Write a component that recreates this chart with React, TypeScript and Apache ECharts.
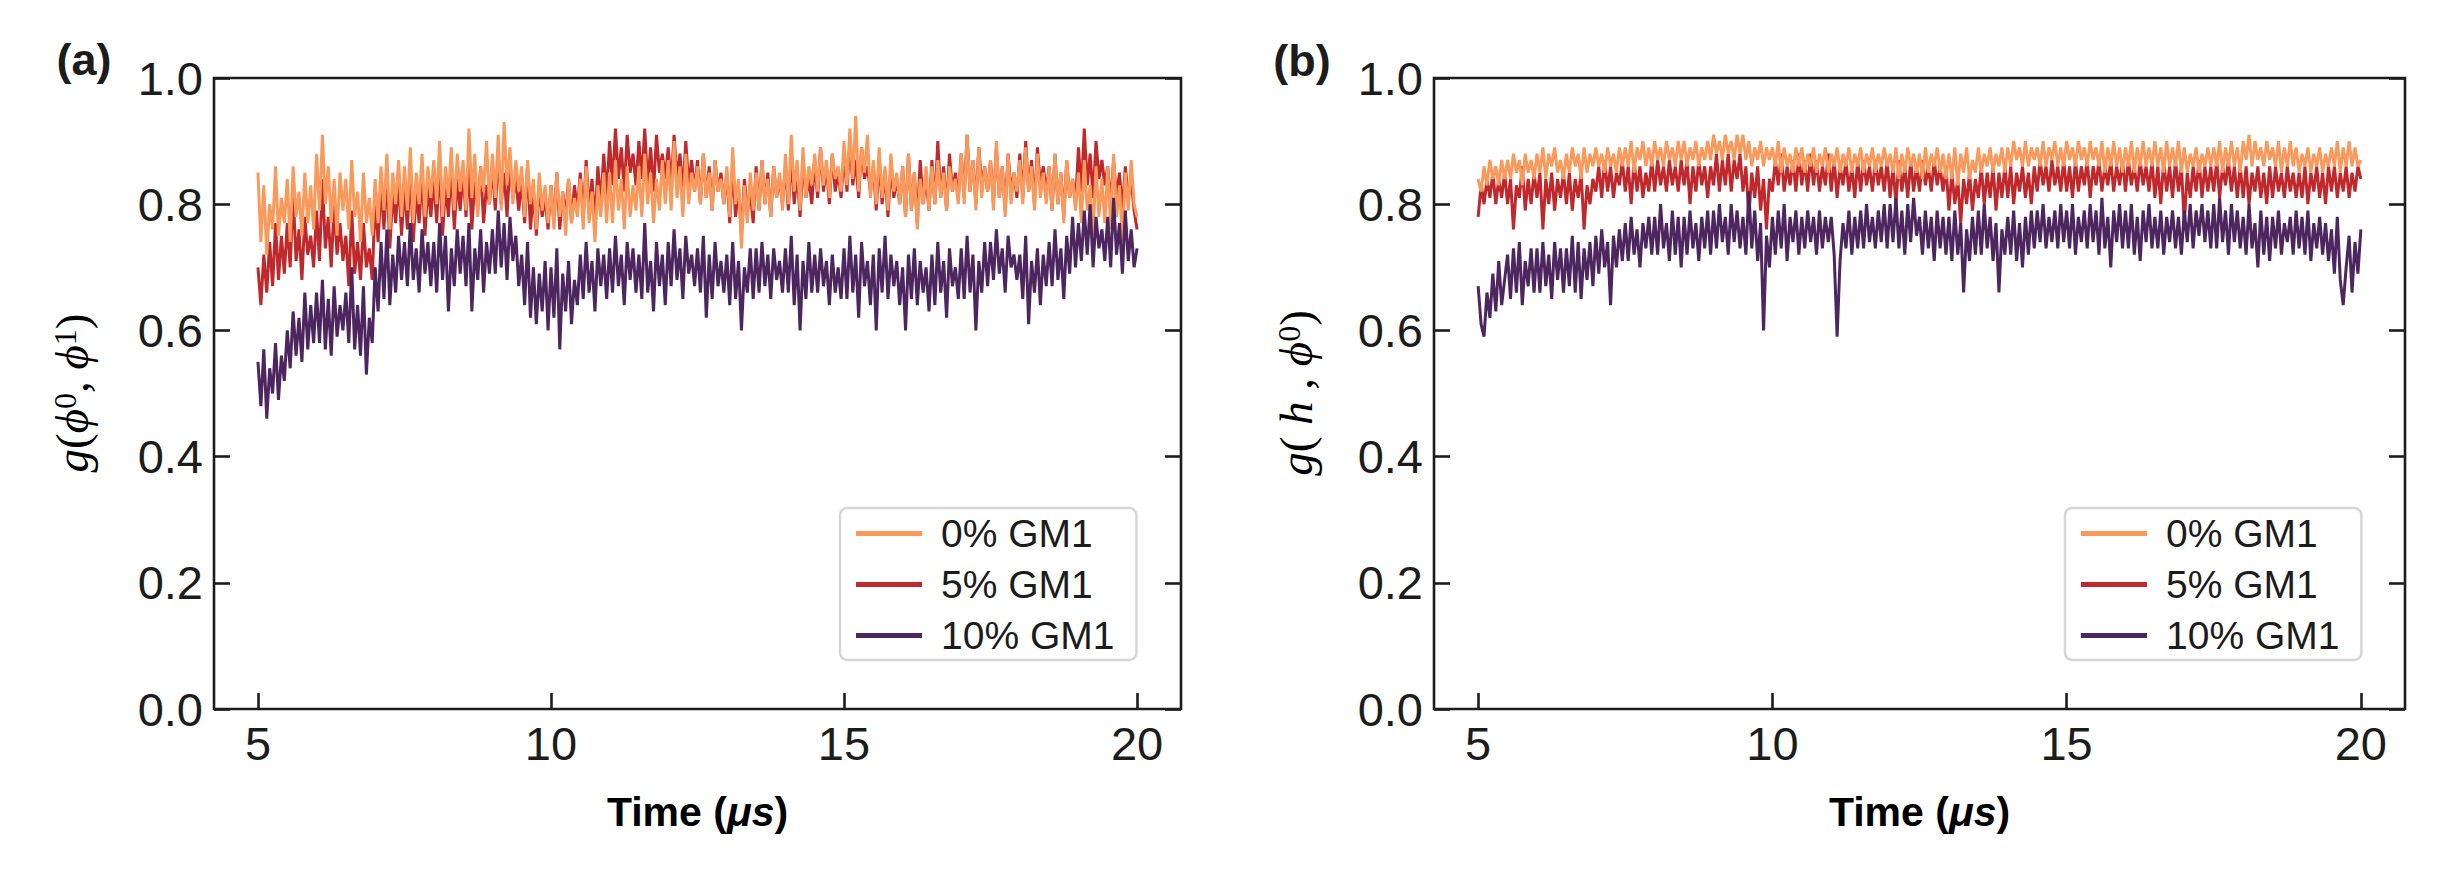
import { useEffect, useRef } from "react";
import * as echarts from "echarts";

// sampling of all traces: 5.0 .. 20.0 us, every 0.05 us (10 values per row = 0.5 us)
const TIME_START = 5;
const TIME_STEP = 0.05;

const SERIES_NAMES = ["0% GM1", "5% GM1", "10% GM1"];
const SERIES_COLORS = ["#F99A5C", "#C1282B", "#4D2660"];
const X_TICKS = [5, 10, 15, 20];

// panel (a): g(phi0, phi1)
const A_GM0 = [
  0.85, 0.74, 0.83, 0.72, 0.80, 0.76, 0.86, 0.75, 0.81, 0.77,
  0.84, 0.74, 0.86, 0.78, 0.82, 0.75, 0.85, 0.77, 0.83, 0.76,
  0.88, 0.79, 0.91, 0.80, 0.86, 0.77, 0.84, 0.75, 0.85, 0.79,
  0.84, 0.76, 0.87, 0.78, 0.82, 0.74, 0.85, 0.77, 0.81, 0.75,
  0.84, 0.77, 0.86, 0.79, 0.88, 0.76, 0.85, 0.80, 0.87, 0.78,
  0.86, 0.79, 0.89, 0.77, 0.85, 0.80, 0.88, 0.78, 0.86, 0.81,
  0.87, 0.80, 0.90, 0.78, 0.86, 0.81, 0.89, 0.79, 0.88, 0.82,
  0.87, 0.79, 0.92, 0.81, 0.88, 0.78, 0.86, 0.82, 0.90, 0.80,
  0.88, 0.81, 0.91, 0.79, 0.93, 0.83, 0.89, 0.80, 0.87, 0.82,
  0.86, 0.78, 0.87, 0.80, 0.84, 0.76, 0.85, 0.79, 0.83, 0.77,
  0.83, 0.76, 0.85, 0.78, 0.82, 0.75, 0.84, 0.77, 0.81, 0.78,
  0.84, 0.76, 0.86, 0.77, 0.82, 0.74, 0.83, 0.78, 0.85, 0.77,
  0.85, 0.77, 0.87, 0.79, 0.84, 0.76, 0.86, 0.78, 0.83, 0.79,
  0.86, 0.78, 0.88, 0.80, 0.85, 0.77, 0.84, 0.79, 0.87, 0.80,
  0.87, 0.79, 0.90, 0.81, 0.86, 0.78, 0.88, 0.80, 0.85, 0.82,
  0.86, 0.80, 0.88, 0.81, 0.85, 0.79, 0.87, 0.82, 0.84, 0.80,
  0.86, 0.78, 0.89, 0.80, 0.84, 0.73, 0.83, 0.77, 0.85, 0.79,
  0.85, 0.79, 0.87, 0.80, 0.84, 0.78, 0.86, 0.81, 0.85, 0.79,
  0.88, 0.80, 0.91, 0.82, 0.87, 0.79, 0.89, 0.81, 0.86, 0.83,
  0.88, 0.82, 0.89, 0.83, 0.87, 0.81, 0.88, 0.84, 0.86, 0.82,
  0.90, 0.83, 0.92, 0.84, 0.94, 0.82, 0.89, 0.85, 0.91, 0.81,
  0.87, 0.80, 0.89, 0.81, 0.86, 0.79, 0.88, 0.82, 0.85, 0.80,
  0.86, 0.78, 0.88, 0.79, 0.85, 0.76, 0.84, 0.80, 0.86, 0.79,
  0.86, 0.80, 0.87, 0.81, 0.85, 0.79, 0.86, 0.82, 0.84, 0.80,
  0.88, 0.80, 0.91, 0.82, 0.87, 0.79, 0.89, 0.81, 0.86, 0.82,
  0.87, 0.79, 0.90, 0.81, 0.86, 0.78, 0.88, 0.80, 0.85, 0.82,
  0.87, 0.80, 0.89, 0.82, 0.86, 0.79, 0.88, 0.81, 0.85, 0.80,
  0.86, 0.79, 0.88, 0.80, 0.85, 0.77, 0.87, 0.81, 0.84, 0.79,
  0.85, 0.77, 0.87, 0.79, 0.83, 0.75, 0.86, 0.78, 0.84, 0.77,
  0.86, 0.76, 0.88, 0.78, 0.83, 0.74, 0.85, 0.79, 0.87, 0.80,
  0.78,
];
const A_GM5 = [
  0.70, 0.64, 0.72, 0.66, 0.74, 0.67, 0.77, 0.68, 0.75, 0.69,
  0.77, 0.70, 0.82, 0.71, 0.76, 0.68, 0.78, 0.72, 0.75, 0.70,
  0.79, 0.71, 0.84, 0.73, 0.78, 0.70, 0.80, 0.72, 0.77, 0.71,
  0.75, 0.67, 0.79, 0.69, 0.74, 0.68, 0.77, 0.70, 0.73, 0.68,
  0.81, 0.74, 0.83, 0.76, 0.85, 0.73, 0.82, 0.77, 0.84, 0.75,
  0.83, 0.76, 0.86, 0.74, 0.82, 0.77, 0.85, 0.75, 0.83, 0.78,
  0.84, 0.77, 0.87, 0.75, 0.83, 0.78, 0.86, 0.76, 0.84, 0.79,
  0.85, 0.78, 0.86, 0.76, 0.84, 0.79, 0.86, 0.77, 0.83, 0.80,
  0.86, 0.79, 0.88, 0.80, 0.85, 0.78, 0.87, 0.81, 0.84, 0.79,
  0.84, 0.77, 0.86, 0.76, 0.82, 0.75, 0.83, 0.78, 0.81, 0.76,
  0.83, 0.77, 0.85, 0.76, 0.82, 0.78, 0.84, 0.77, 0.83, 0.79,
  0.85, 0.78, 0.87, 0.79, 0.84, 0.77, 0.86, 0.80, 0.88, 0.81,
  0.90, 0.83, 0.92, 0.84, 0.89, 0.82, 0.91, 0.85, 0.88, 0.83,
  0.90, 0.84, 0.92, 0.83, 0.89, 0.82, 0.91, 0.85, 0.88, 0.84,
  0.89, 0.83, 0.91, 0.84, 0.88, 0.82, 0.90, 0.83, 0.87, 0.82,
  0.87, 0.80, 0.88, 0.81, 0.86, 0.79, 0.87, 0.82, 0.85, 0.80,
  0.85, 0.77, 0.86, 0.78, 0.83, 0.75, 0.84, 0.79, 0.82, 0.77,
  0.86, 0.79, 0.87, 0.80, 0.85, 0.78, 0.86, 0.81, 0.84, 0.80,
  0.86, 0.79, 0.88, 0.80, 0.85, 0.78, 0.87, 0.81, 0.84, 0.80,
  0.87, 0.81, 0.89, 0.82, 0.86, 0.80, 0.88, 0.82, 0.85, 0.81,
  0.88, 0.82, 0.90, 0.83, 0.87, 0.81, 0.89, 0.84, 0.86, 0.82,
  0.86, 0.79, 0.87, 0.80, 0.85, 0.78, 0.86, 0.81, 0.84, 0.80,
  0.86, 0.78, 0.88, 0.79, 0.85, 0.77, 0.87, 0.80, 0.84, 0.79,
  0.87, 0.80, 0.90, 0.81, 0.86, 0.79, 0.88, 0.82, 0.85, 0.81,
  0.88, 0.81, 0.91, 0.82, 0.87, 0.80, 0.89, 0.83, 0.86, 0.82,
  0.87, 0.80, 0.89, 0.81, 0.86, 0.79, 0.88, 0.82, 0.85, 0.81,
  0.88, 0.81, 0.90, 0.82, 0.87, 0.80, 0.89, 0.83, 0.86, 0.82,
  0.86, 0.79, 0.88, 0.80, 0.85, 0.78, 0.87, 0.81, 0.84, 0.80,
  0.89, 0.82, 0.92, 0.83, 0.88, 0.81, 0.90, 0.84, 0.87, 0.83,
  0.86, 0.80, 0.87, 0.81, 0.85, 0.79, 0.86, 0.81, 0.84, 0.79,
  0.76,
];
const A_GM10 = [
  0.55, 0.48, 0.57, 0.46, 0.54, 0.50, 0.58, 0.49, 0.56, 0.52,
  0.60, 0.54, 0.63, 0.56, 0.62, 0.55, 0.66, 0.57, 0.64, 0.58,
  0.66, 0.58, 0.68, 0.57, 0.65, 0.56, 0.67, 0.59, 0.64, 0.60,
  0.66, 0.58, 0.70, 0.57, 0.64, 0.56, 0.67, 0.53, 0.62, 0.58,
  0.70, 0.63, 0.74, 0.65, 0.76, 0.64, 0.72, 0.66, 0.75, 0.68,
  0.74, 0.67, 0.77, 0.68, 0.73, 0.66, 0.76, 0.69, 0.74, 0.67,
  0.74, 0.66, 0.77, 0.68, 0.75, 0.63, 0.73, 0.67, 0.76, 0.69,
  0.75, 0.67, 0.77, 0.63, 0.73, 0.68, 0.76, 0.66, 0.74, 0.69,
  0.76, 0.69, 0.79, 0.70, 0.77, 0.68, 0.78, 0.71, 0.75, 0.67,
  0.72, 0.64, 0.74, 0.62, 0.70, 0.61, 0.69, 0.63, 0.71, 0.60,
  0.70, 0.62, 0.73, 0.57, 0.69, 0.63, 0.71, 0.61, 0.68, 0.64,
  0.72, 0.65, 0.74, 0.66, 0.71, 0.63, 0.73, 0.67, 0.72, 0.65,
  0.73, 0.66, 0.75, 0.67, 0.72, 0.64, 0.74, 0.68, 0.73, 0.66,
  0.72, 0.65, 0.77, 0.66, 0.71, 0.63, 0.74, 0.67, 0.72, 0.64,
  0.74, 0.67, 0.76, 0.68, 0.73, 0.65, 0.75, 0.69, 0.72, 0.67,
  0.73, 0.66, 0.75, 0.62, 0.72, 0.65, 0.74, 0.67, 0.71, 0.66,
  0.72, 0.64, 0.74, 0.65, 0.71, 0.60, 0.70, 0.66, 0.73, 0.65,
  0.73, 0.66, 0.74, 0.67, 0.72, 0.65, 0.73, 0.68, 0.71, 0.66,
  0.73, 0.66, 0.75, 0.64, 0.72, 0.60, 0.71, 0.65, 0.74, 0.66,
  0.72, 0.66, 0.73, 0.67, 0.71, 0.64, 0.72, 0.66, 0.70, 0.65,
  0.73, 0.65, 0.75, 0.66, 0.72, 0.62, 0.74, 0.67, 0.71, 0.64,
  0.72, 0.60, 0.73, 0.66, 0.75, 0.65, 0.72, 0.67, 0.71, 0.64,
  0.70, 0.60, 0.72, 0.65, 0.73, 0.64, 0.71, 0.66, 0.70, 0.63,
  0.72, 0.64, 0.74, 0.66, 0.71, 0.62, 0.73, 0.67, 0.70, 0.65,
  0.73, 0.65, 0.75, 0.66, 0.72, 0.60, 0.71, 0.66, 0.74, 0.67,
  0.74, 0.68, 0.76, 0.69, 0.73, 0.66, 0.75, 0.70, 0.72, 0.68,
  0.72, 0.65, 0.75, 0.61, 0.71, 0.66, 0.73, 0.64, 0.72, 0.67,
  0.74, 0.67, 0.76, 0.68, 0.73, 0.65, 0.75, 0.69, 0.78, 0.70,
  0.77, 0.71, 0.79, 0.72, 0.80, 0.70, 0.78, 0.73, 0.76, 0.71,
  0.78, 0.70, 0.81, 0.72, 0.77, 0.69, 0.79, 0.71, 0.76, 0.70,
  0.73,
];

// panel (b): g(h, phi0)
const B_GM0 = [
  0.84, 0.82, 0.86, 0.83, 0.87, 0.84, 0.86, 0.83, 0.87, 0.84,
  0.87, 0.84, 0.88, 0.85, 0.87, 0.83, 0.88, 0.85, 0.87, 0.84,
  0.88, 0.85, 0.89, 0.84, 0.88, 0.86, 0.89, 0.85, 0.87, 0.84,
  0.88, 0.85, 0.89, 0.86, 0.88, 0.84, 0.89, 0.85, 0.88, 0.86,
  0.89, 0.86, 0.88, 0.85, 0.89, 0.86, 0.88, 0.85, 0.89, 0.86,
  0.89, 0.86, 0.90, 0.85, 0.89, 0.87, 0.90, 0.86, 0.89, 0.86,
  0.90, 0.87, 0.89, 0.86, 0.90, 0.87, 0.89, 0.86, 0.90, 0.87,
  0.90, 0.86, 0.89, 0.87, 0.90, 0.86, 0.89, 0.87, 0.90, 0.87,
  0.91, 0.88, 0.90, 0.87, 0.91, 0.88, 0.90, 0.87, 0.91, 0.88,
  0.91, 0.87, 0.90, 0.86, 0.89, 0.87, 0.90, 0.86, 0.89, 0.87,
  0.89, 0.86, 0.90, 0.85, 0.89, 0.86, 0.88, 0.85, 0.89, 0.86,
  0.89, 0.85, 0.88, 0.86, 0.89, 0.85, 0.88, 0.86, 0.89, 0.85,
  0.88, 0.86, 0.89, 0.85, 0.88, 0.86, 0.89, 0.85, 0.88, 0.86,
  0.89, 0.85, 0.88, 0.86, 0.89, 0.85, 0.88, 0.86, 0.89, 0.86,
  0.88, 0.85, 0.89, 0.84, 0.88, 0.85, 0.89, 0.86, 0.88, 0.85,
  0.88, 0.84, 0.89, 0.85, 0.88, 0.86, 0.89, 0.85, 0.88, 0.84,
  0.88, 0.84, 0.89, 0.83, 0.88, 0.85, 0.89, 0.84, 0.87, 0.85,
  0.89, 0.85, 0.88, 0.86, 0.89, 0.85, 0.88, 0.86, 0.89, 0.85,
  0.89, 0.86, 0.90, 0.87, 0.89, 0.86, 0.90, 0.86, 0.89, 0.87,
  0.89, 0.86, 0.90, 0.86, 0.89, 0.87, 0.90, 0.86, 0.89, 0.86,
  0.90, 0.87, 0.89, 0.86, 0.90, 0.87, 0.89, 0.86, 0.90, 0.87,
  0.89, 0.86, 0.90, 0.85, 0.89, 0.86, 0.90, 0.86, 0.89, 0.85,
  0.89, 0.86, 0.90, 0.85, 0.89, 0.86, 0.90, 0.86, 0.89, 0.86,
  0.90, 0.86, 0.89, 0.85, 0.90, 0.86, 0.89, 0.86, 0.90, 0.85,
  0.89, 0.85, 0.88, 0.86, 0.89, 0.85, 0.88, 0.86, 0.89, 0.86,
  0.89, 0.86, 0.90, 0.85, 0.89, 0.86, 0.90, 0.86, 0.89, 0.85,
  0.90, 0.87, 0.91, 0.86, 0.90, 0.87, 0.89, 0.86, 0.90, 0.87,
  0.89, 0.86, 0.90, 0.85, 0.89, 0.86, 0.90, 0.86, 0.89, 0.85,
  0.88, 0.86, 0.89, 0.85, 0.88, 0.86, 0.89, 0.85, 0.88, 0.86,
  0.89, 0.86, 0.90, 0.85, 0.89, 0.86, 0.90, 0.86, 0.89, 0.86,
  0.87,
];
const B_GM5 = [
  0.78, 0.83, 0.80, 0.84, 0.81, 0.85, 0.80, 0.84, 0.81, 0.85,
  0.80, 0.84, 0.76, 0.83, 0.81, 0.86, 0.79, 0.84, 0.80, 0.85,
  0.81, 0.85, 0.76, 0.84, 0.80, 0.85, 0.79, 0.84, 0.81, 0.85,
  0.80, 0.85, 0.79, 0.84, 0.81, 0.85, 0.76, 0.83, 0.80, 0.84,
  0.82, 0.86, 0.81, 0.87, 0.82, 0.86, 0.81, 0.85, 0.83, 0.87,
  0.82, 0.86, 0.80, 0.87, 0.82, 0.86, 0.81, 0.85, 0.82, 0.87,
  0.82, 0.87, 0.83, 0.86, 0.82, 0.87, 0.83, 0.86, 0.82, 0.87,
  0.83, 0.87, 0.80, 0.86, 0.82, 0.87, 0.83, 0.86, 0.81, 0.86,
  0.83, 0.88, 0.82, 0.87, 0.83, 0.88, 0.82, 0.87, 0.84, 0.88,
  0.82, 0.86, 0.78, 0.85, 0.81, 0.86, 0.79, 0.84, 0.76, 0.84,
  0.82, 0.87, 0.83, 0.88, 0.82, 0.86, 0.83, 0.87, 0.82, 0.88,
  0.83, 0.87, 0.82, 0.88, 0.83, 0.87, 0.82, 0.86, 0.83, 0.88,
  0.82, 0.87, 0.81, 0.86, 0.83, 0.87, 0.82, 0.86, 0.81, 0.87,
  0.82, 0.87, 0.83, 0.86, 0.82, 0.87, 0.83, 0.86, 0.82, 0.87,
  0.81, 0.86, 0.80, 0.87, 0.82, 0.86, 0.81, 0.87, 0.82, 0.86,
  0.82, 0.87, 0.83, 0.86, 0.82, 0.87, 0.83, 0.86, 0.82, 0.86,
  0.79, 0.85, 0.80, 0.84, 0.77, 0.84, 0.80, 0.85, 0.79, 0.84,
  0.81, 0.86, 0.80, 0.85, 0.81, 0.86, 0.79, 0.85, 0.81, 0.86,
  0.81, 0.86, 0.80, 0.85, 0.82, 0.86, 0.81, 0.85, 0.80, 0.86,
  0.82, 0.87, 0.83, 0.86, 0.82, 0.87, 0.83, 0.86, 0.82, 0.87,
  0.82, 0.86, 0.81, 0.87, 0.82, 0.86, 0.83, 0.87, 0.81, 0.86,
  0.83, 0.87, 0.82, 0.86, 0.83, 0.87, 0.82, 0.86, 0.83, 0.87,
  0.82, 0.87, 0.83, 0.86, 0.82, 0.87, 0.83, 0.86, 0.82, 0.87,
  0.81, 0.86, 0.80, 0.87, 0.82, 0.86, 0.81, 0.87, 0.82, 0.86,
  0.77, 0.85, 0.81, 0.86, 0.82, 0.87, 0.81, 0.86, 0.82, 0.86,
  0.82, 0.87, 0.81, 0.86, 0.83, 0.87, 0.82, 0.86, 0.81, 0.86,
  0.81, 0.86, 0.80, 0.85, 0.82, 0.86, 0.81, 0.85, 0.80, 0.86,
  0.81, 0.86, 0.82, 0.85, 0.81, 0.86, 0.82, 0.85, 0.81, 0.85,
  0.81, 0.86, 0.80, 0.85, 0.82, 0.86, 0.81, 0.85, 0.80, 0.86,
  0.82, 0.86, 0.81, 0.85, 0.82, 0.86, 0.81, 0.85, 0.82, 0.86,
  0.84,
];
const B_GM10 = [
  0.67, 0.61, 0.59, 0.66, 0.62, 0.69, 0.63, 0.71, 0.64, 0.68,
  0.72, 0.65, 0.73, 0.66, 0.74, 0.64, 0.71, 0.67, 0.73, 0.66,
  0.73, 0.66, 0.74, 0.67, 0.72, 0.65, 0.74, 0.68, 0.73, 0.66,
  0.73, 0.67, 0.75, 0.66, 0.74, 0.65, 0.73, 0.68, 0.74, 0.67,
  0.75, 0.69, 0.76, 0.70, 0.74, 0.64, 0.75, 0.70, 0.76, 0.71,
  0.77, 0.71, 0.78, 0.72, 0.76, 0.70, 0.77, 0.73, 0.78, 0.72,
  0.78, 0.72, 0.80, 0.73, 0.77, 0.71, 0.79, 0.72, 0.78, 0.70,
  0.78, 0.72, 0.79, 0.73, 0.77, 0.71, 0.78, 0.73, 0.79, 0.72,
  0.79, 0.73, 0.80, 0.74, 0.78, 0.72, 0.80, 0.74, 0.79, 0.73,
  0.78, 0.72, 0.82, 0.73, 0.79, 0.71, 0.77, 0.60, 0.75, 0.70,
  0.78, 0.72, 0.79, 0.73, 0.80, 0.71, 0.78, 0.74, 0.79, 0.72,
  0.78, 0.73, 0.79, 0.74, 0.78, 0.72, 0.79, 0.73, 0.78, 0.74,
  0.78, 0.72, 0.59, 0.71, 0.77, 0.73, 0.79, 0.72, 0.78, 0.73,
  0.79, 0.73, 0.80, 0.74, 0.78, 0.73, 0.79, 0.74, 0.80, 0.73,
  0.80, 0.74, 0.81, 0.73, 0.79, 0.72, 0.80, 0.74, 0.81, 0.75,
  0.78, 0.72, 0.79, 0.73, 0.78, 0.71, 0.79, 0.73, 0.78, 0.72,
  0.78, 0.71, 0.79, 0.72, 0.77, 0.66, 0.76, 0.71, 0.78, 0.72,
  0.79, 0.72, 0.80, 0.73, 0.78, 0.71, 0.77, 0.66, 0.76, 0.72,
  0.78, 0.72, 0.79, 0.71, 0.77, 0.70, 0.78, 0.72, 0.79, 0.73,
  0.79, 0.74, 0.80, 0.73, 0.78, 0.74, 0.79, 0.73, 0.80, 0.74,
  0.79, 0.73, 0.80, 0.72, 0.78, 0.74, 0.79, 0.73, 0.80, 0.74,
  0.79, 0.72, 0.81, 0.73, 0.78, 0.70, 0.79, 0.74, 0.80, 0.73,
  0.79, 0.73, 0.80, 0.72, 0.78, 0.71, 0.79, 0.74, 0.80, 0.73,
  0.78, 0.73, 0.79, 0.72, 0.78, 0.74, 0.79, 0.73, 0.78, 0.72,
  0.79, 0.74, 0.80, 0.73, 0.79, 0.75, 0.80, 0.74, 0.79, 0.73,
  0.80, 0.73, 0.81, 0.74, 0.79, 0.72, 0.80, 0.74, 0.79, 0.73,
  0.78, 0.72, 0.80, 0.73, 0.77, 0.70, 0.79, 0.72, 0.78, 0.71,
  0.78, 0.73, 0.79, 0.72, 0.77, 0.74, 0.78, 0.72, 0.79, 0.73,
  0.78, 0.72, 0.79, 0.71, 0.77, 0.73, 0.78, 0.72, 0.77, 0.71,
  0.76, 0.69, 0.78, 0.68, 0.64, 0.70, 0.75, 0.66, 0.74, 0.69,
  0.76,
];

const PANEL_DATA = [
  [A_GM0, A_GM5, A_GM10],
  [B_GM0, B_GM5, B_GM10],
];

const SANS = "'Liberation Sans', Arial, Helvetica, sans-serif";
const SERIF = "'Liberation Serif', 'DejaVu Serif', serif";
const INK = "#1c1c1c";

const GRIDS = [
  { left: 214, top: 78, width: 967, height: 631 },
  { left: 1434, top: 78, width: 971, height: 631 },
];

function toPairs(values: number[]) {
  return values.map((v, i) => [+(TIME_START + i * TIME_STEP).toFixed(2), v]);
}

function buildOption(): echarts.EChartsOption {
  const tickStyle = { color: INK, width: 2.6 };

  const xAxis: any[] = GRIDS.map((_, p) => ({
    gridIndex: p,
    type: "value",
    min: 4.25,
    max: 20.75,
    axisLine: { show: false },
    splitLine: { show: false },
    axisTick: { inside: true, length: 16, customValues: X_TICKS, lineStyle: tickStyle },
    axisLabel: {
      customValues: X_TICKS,
      fontSize: 47,
      fontFamily: SANS,
      color: INK,
      margin: 11,
      formatter: (v: number) => String(v),
    },
  }));

  const yAxis: any[] = [];
  GRIDS.forEach((_, p) => {
    yAxis.push({
      gridIndex: p,
      type: "value",
      min: 0,
      max: 1,
      interval: 0.2,
      axisLine: { show: false },
      splitLine: { show: false },
      axisTick: { inside: true, length: 16, lineStyle: tickStyle },
      axisLabel: {
        fontSize: 47,
        fontFamily: SANS,
        color: INK,
        margin: 11,
        formatter: (v: number) => v.toFixed(1),
      },
    });
    yAxis.push({
      gridIndex: p,
      type: "value",
      position: "right",
      min: 0,
      max: 1,
      interval: 0.2,
      axisLine: { show: false },
      splitLine: { show: false },
      axisTick: { inside: true, length: 16, lineStyle: tickStyle },
      axisLabel: { show: false },
    });
  });

  // draw order: 5%, 0%, 10% (purple ends up on top)
  const drawOrder = [1, 0, 2];
  const series: any[] = [];
  PANEL_DATA.forEach((panel, p) => {
    drawOrder.forEach((k) => {
      series.push({
        name: SERIES_NAMES[k],
        type: "line",
        xAxisIndex: p,
        yAxisIndex: p * 2,
        data: toPairs(panel[k]),
        showSymbol: false,
        symbol: "none",
        silent: true,
        color: SERIES_COLORS[k],
        lineStyle: { color: SERIES_COLORS[k], width: 3 },
      });
    });
  });

  const legend: any[] = [840, 2065].map((left) => ({
    data: SERIES_NAMES,
    orient: "vertical",
    left,
    top: 508,
    icon: "rect",
    itemWidth: 66,
    itemHeight: 5,
    itemGap: 12,
    padding: [6, 22, 5, 16],
    borderColor: "#d6d6d6",
    borderWidth: 2.5,
    borderRadius: 7,
    backgroundColor: "rgba(255,255,255,0.85)",
    selectedMode: false,
    textStyle: { fontSize: 39, fontFamily: SANS, color: INK, padding: [0, 0, 0, 14] },
  }));

  const yRich = {
    i: { fontFamily: SERIF, fontStyle: "italic", fontSize: 47, color: INK },
    n: { fontFamily: SERIF, fontSize: 47, color: INK },
    s: { fontFamily: SERIF, fontSize: 32, color: INK, verticalAlign: "top" },
  };
  const xRich = {
    b: { fontFamily: SANS, fontWeight: "bold", fontSize: 41, color: INK },
    bi: { fontFamily: SANS, fontWeight: "bold", fontStyle: "italic", fontSize: 41, color: INK },
  };

  const graphic: any[] = [
    {
      type: "text",
      x: 84,
      y: 59,
      style: { text: "(a)", font: `bold 45px ${SANS}`, fill: INK, align: "center", verticalAlign: "middle" },
    },
    {
      type: "text",
      x: 1302,
      y: 60,
      style: { text: "(b)", font: `bold 45px ${SANS}`, fill: INK, align: "center", verticalAlign: "middle" },
    },
    {
      type: "text",
      x: 72,
      y: 393,
      rotation: Math.PI / 2,
      style: {
        text: "{i|g}{n|(}{i|ϕ}{s|0}{n|, }{i|ϕ}{s|1}{n|)}",
        rich: yRich,
        align: "center",
        verticalAlign: "middle",
      },
    },
    {
      type: "text",
      x: 1296,
      y: 393,
      rotation: Math.PI / 2,
      style: {
        text: "{i|g}{n|( }{i|h}{n| , }{i|ϕ}{s|0}{n|)}",
        rich: yRich,
        align: "center",
        verticalAlign: "middle",
      },
    },
    ...GRIDS.map((g) => ({
      type: "text",
      x: g.left + g.width / 2,
      y: 812,
      style: {
        text: "{b|Time (}{bi|μs}{b|)}",
        rich: xRich,
        align: "center",
        verticalAlign: "middle",
      },
    })),
  ];

  return {
    animation: false,
    backgroundColor: "#ffffff",
    grid: GRIDS.map((g) => ({
      ...g,
      show: true,
      borderColor: INK,
      borderWidth: 2.6,
      backgroundColor: "transparent",
    })),
    xAxis,
    yAxis,
    legend,
    series,
    graphic,
  };
}

export default function App() {
  const chartRef = useRef<HTMLDivElement>(null);

  useEffect(() => {
    if (!chartRef.current) return;
    const chart = echarts.init(chartRef.current, undefined, { renderer: "svg" });
    chart.setOption(buildOption());
    return () => chart.dispose();
  }, []);

  return (
    <div
      ref={chartRef}
      style={{ position: "fixed", left: 0, top: 0, width: 2453, height: 874, background: "#fff" }}
    />
  );
}
